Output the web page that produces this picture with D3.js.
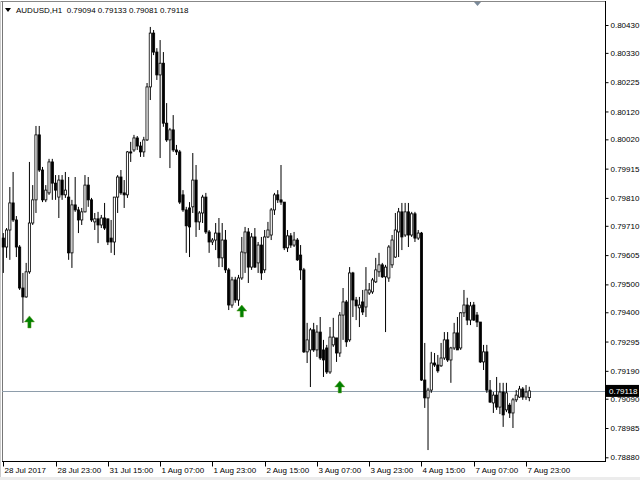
<!DOCTYPE html>
<html><head><meta charset="utf-8">
<script src="https://cdn.jsdelivr.net/npm/d3@7"></script>
<style>html,body{margin:0;padding:0;background:#fff;}svg{display:block;}</style>
</head><body>
<svg id="c" width="640" height="480"></svg>
<script>
const open = [0.79666,0.79634,0.79695,0.79792,0.79731,0.79634,0.79487,0.79455,0.79545,0.79720,
0.79803,0.80036,0.79910,0.79803,0.79828,0.79939,0.79863,0.79813,0.79874,0.79821,
0.79813,0.79613,0.79785,0.79767,0.79731,0.79760,0.79856,0.79803,0.79724,0.79735,
0.79713,0.79738,0.79735,0.79666,0.79652,0.79813,0.79885,0.79828,0.79821,0.79975,
0.79982,0.80025,0.79996,0.79975,0.80018,0.80208,0.80401,0.80333,0.80251,0.80293,
0.80078,0.80018,0.80054,0.79982,0.79975,0.79821,0.79767,0.79774,0.79778,0.79874,
0.79724,0.79756,0.79813,0.79688,0.79652,0.79659,0.79684,0.79595,0.79659,0.79552,
0.79426,0.79516,0.79444,0.79523,0.79613,0.79688,0.79562,0.79670,0.79577,0.79641,
0.79552,0.79670,0.79677,0.79767,0.79821,0.79803,0.79795,0.79631,0.79674,0.79641,
0.79659,0.79605,0.79552,0.79258,0.79265,0.79337,0.79265,0.79329,0.79265,0.79272,
0.79186,0.79283,0.79308,0.79254,0.79390,0.79437,0.79301,0.79541,0.79444,0.79416,
0.79437,0.79419,0.79469,0.79473,0.79509,0.79545,0.79570,0.79527,0.79523,0.79570,
0.79598,0.79688,0.79760,0.79677,0.79760,0.79677,0.79753,0.79666,0.79684,0.79157,
0.79093,0.79121,0.79218,0.79211,0.79208,0.79236,0.79301,0.79229,0.79272,0.79326,
0.79272,0.79398,0.79426,0.79372,0.79426,0.79390,0.79365,0.79222,0.79258,0.79121,
0.79075,0.79103,0.79060,0.79114,0.79050,0.79067,0.79039,0.79086,0.79096,0.79125,
0.79096,0.79094];
const high = [0.79684,0.79702,0.79849,0.79903,0.79745,0.79641,0.79541,0.79577,0.79939,0.79856,
0.80068,0.80068,0.79921,0.79856,0.79950,0.79950,0.79892,0.79892,0.79892,0.79903,
0.79885,0.79803,0.79885,0.79778,0.79774,0.79892,0.79885,0.79810,0.79756,0.79760,
0.79749,0.79792,0.79735,0.79731,0.79813,0.79892,0.79910,0.79874,0.79978,0.80011,
0.80036,0.80032,0.80011,0.80029,0.80222,0.80423,0.80412,0.80347,0.80376,0.80333,
0.80150,0.80061,0.80107,0.80000,0.79982,0.79838,0.79778,0.79795,0.79971,0.79928,
0.79763,0.79821,0.79828,0.79695,0.79666,0.79720,0.79738,0.79720,0.79695,0.79559,
0.79527,0.79527,0.79534,0.79670,0.79706,0.79702,0.79684,0.79702,0.79652,0.79670,
0.79695,0.79724,0.79774,0.79828,0.79838,0.79928,0.79795,0.79695,0.79684,0.79688,
0.79666,0.79641,0.79559,0.79362,0.79344,0.79362,0.79354,0.79383,0.79301,0.79283,
0.79347,0.79380,0.79308,0.79401,0.79487,0.79444,0.79562,0.79545,0.79455,0.79455,
0.79480,0.79562,0.79505,0.79523,0.79595,0.79613,0.79577,0.79570,0.79641,0.79677,
0.79756,0.79774,0.79792,0.79792,0.79792,0.79760,0.79760,0.79695,0.79688,0.79290,
0.79129,0.79258,0.79254,0.79247,0.79290,0.79329,0.79329,0.79276,0.79362,0.79383,
0.79401,0.79480,0.79452,0.79437,0.79437,0.79401,0.79365,0.79283,0.79283,0.79157,
0.79114,0.79168,0.79147,0.79147,0.79147,0.79075,0.79093,0.79121,0.79136,0.79132,
0.79139,0.79133];
const low = [0.79541,0.79595,0.79588,0.79724,0.79598,0.79480,0.79362,0.79452,0.79538,0.79713,
0.79756,0.79903,0.79795,0.79795,0.79821,0.79803,0.79803,0.79738,0.79803,0.79810,
0.79588,0.79559,0.79760,0.79684,0.79713,0.79758,0.79778,0.79724,0.79695,0.79648,
0.79702,0.79695,0.79641,0.79613,0.79605,0.79756,0.79821,0.79774,0.79810,0.79939,
0.79975,0.79982,0.79957,0.79957,0.80014,0.80161,0.80322,0.80233,0.79953,0.80065,
0.80011,0.79917,0.79975,0.79964,0.79788,0.79760,0.79613,0.79598,0.79756,0.79670,
0.79695,0.79720,0.79681,0.79613,0.79641,0.79623,0.79562,0.79562,0.79541,0.79408,
0.79416,0.79434,0.79423,0.79516,0.79541,0.79505,0.79552,0.79559,0.79541,0.79516,
0.79541,0.79666,0.79659,0.79749,0.79792,0.79785,0.79623,0.79616,0.79631,0.79634,
0.79584,0.79516,0.79254,0.79218,0.79132,0.79258,0.79240,0.79229,0.79168,0.79179,
0.79179,0.79276,0.79222,0.79240,0.79301,0.79276,0.79294,0.79383,0.79372,0.79347,
0.79390,0.79383,0.79462,0.79466,0.79505,0.79527,0.79523,0.79329,0.79509,0.79559,
0.79595,0.79598,0.79623,0.79670,0.79634,0.79670,0.79652,0.79659,0.79154,0.79057,
0.78906,0.79111,0.79204,0.79183,0.79204,0.79229,0.79222,0.79147,0.79265,0.79265,
0.79265,0.79383,0.79354,0.79354,0.79369,0.79347,0.79218,0.79193,0.79111,0.79075,
0.79039,0.79050,0.79035,0.78989,0.79042,0.79021,0.78985,0.79078,0.79093,0.79086,
0.79086,0.79081];
const close = [0.79634,0.79695,0.79792,0.79731,0.79634,0.79487,0.79455,0.79545,0.79720,0.79803,
0.80036,0.79910,0.79803,0.79838,0.79939,0.79863,0.79838,0.79874,0.79821,0.79838,
0.79613,0.79785,0.79767,0.79731,0.79760,0.79856,0.79803,0.79731,0.79735,0.79713,
0.79738,0.79702,0.79652,0.79652,0.79813,0.79885,0.79828,0.79821,0.79975,0.79971,
0.80025,0.79996,0.79975,0.80018,0.80208,0.80401,0.80333,0.80251,0.80293,0.80078,
0.80018,0.80054,0.79982,0.79975,0.79795,0.79767,0.79710,0.79706,0.79874,0.79724,
0.79756,0.79813,0.79688,0.79652,0.79659,0.79684,0.79595,0.79659,0.79552,0.79426,
0.79516,0.79444,0.79523,0.79616,0.79688,0.79562,0.79670,0.79562,0.79641,0.79541,
0.79670,0.79695,0.79767,0.79821,0.79803,0.79795,0.79631,0.79674,0.79641,0.79659,
0.79588,0.79552,0.79258,0.79301,0.79337,0.79265,0.79329,0.79236,0.79229,0.79186,
0.79311,0.79311,0.79254,0.79390,0.79437,0.79294,0.79541,0.79444,0.79423,0.79426,
0.79401,0.79480,0.79480,0.79516,0.79552,0.79570,0.79527,0.79562,0.79634,0.79659,
0.79695,0.79760,0.79670,0.79760,0.79677,0.79753,0.79666,0.79684,0.79157,0.79093,
0.79121,0.79218,0.79211,0.79190,0.79236,0.79301,0.79229,0.79272,0.79326,0.79265,
0.79398,0.79426,0.79372,0.79423,0.79372,0.79365,0.79222,0.79258,0.79121,0.79078,
0.79103,0.79060,0.79114,0.79032,0.79111,0.79039,0.79086,0.79103,0.79125,0.79096,
0.79114,0.79118];

const xTickIndex = [0,16,32,48,64,80,96,112,128,144,160];
const xTickLabels = ["28 Jul 2017","28 Jul 23:00","31 Jul 15:00","1 Aug 07:00","1 Aug 23:00","2 Aug 15:00","3 Aug 07:00","3 Aug 23:00","4 Aug 15:00","7 Aug 07:00","7 Aug 23:00"];
const yTicks = [0.80430,0.80330,0.80225,0.80120,0.80020,0.79915,0.79810,0.79710,0.79605,0.79500,0.79400,0.79295,0.79190,0.79090,0.78985,0.78880];
const arrowIndex = [8,73,103];
const arrowPrice = [0.79387,0.79426,0.79154];
const title = "AUDUSD,H1  0.79094 0.79133 0.79081 0.79118";
const lastPrice = 0.79118;

const svg = d3.select("#c");
const font = "'Liberation Sans', Arial, sans-serif";
const x = d3.scaleLinear().domain([0,161]).range([3.3,529.3]);
const y = d3.scaleLinear().domain([0.78880,0.80430]).range([457.3,25]);
const plotL = 2, plotR = 605, plotT = 1, plotB = 461;

// bottom window strip
svg.append("rect").attr("x",0).attr("y",477).attr("width",640).attr("height",3).attr("fill","#ececec");

// frame
svg.append("line").attr("x1",0).attr("x2",plotR).attr("y1",1.5).attr("y2",1.5).attr("stroke","#888").attr("stroke-width",1);
svg.append("line").attr("x1",2.5).attr("x2",2.5).attr("y1",1).attr("y2",plotB).attr("stroke","#777").attr("stroke-width",1);
svg.append("line").attr("x1",0.5).attr("x2",0.5).attr("y1",1).attr("y2",477).attr("stroke","#ccc").attr("stroke-width",1);

// current price line
svg.append("line").attr("x1",plotL).attr("x2",plotR).attr("y1",Math.round(y(lastPrice))+0.5).attr("y2",Math.round(y(lastPrice))+0.5)
  .attr("stroke","#8e9dab").attr("stroke-width",1);

// candles
const data = d3.range(open.length).map(i=>({i,o:open[i],h:high[i],l:low[i],c:close[i]}));
const g = svg.append("g");
g.selectAll("line.wick").data(data).join("line").attr("class","wick")
  .attr("x1",d=>x(d.i)).attr("x2",d=>x(d.i)).attr("y1",d=>y(d.h)).attr("y2",d=>y(d.l))
  .attr("stroke","#000").attr("stroke-width",1);
g.selectAll("rect.body").data(data).join("rect").attr("class","body")
  .attr("x",d=>x(d.i)-1.1).attr("width",2.2)
  .attr("y",d=>y(Math.max(d.o,d.c)))
  .attr("height",d=>Math.max(0.8,Math.abs(y(d.o)-y(d.c))))
  .attr("fill",d=>d.c>=d.o?"#fff":"#000")
  .attr("stroke","#000").attr("stroke-width",0.8);

// arrows
const arrowPath = "M0,0 L5,6 L1.6,6 L1.6,12 L-1.6,12 L-1.6,6 L-5,6 Z";
svg.selectAll("path.arrow").data(arrowIndex.map((d,k)=>({i:d,p:arrowPrice[k]}))).join("path")
  .attr("class","arrow").attr("d",arrowPath)
  .attr("transform",d=>`translate(${x(d.i)},${y(d.p)})`)
  .attr("fill","#008000").attr("stroke","#5a9a20").attr("stroke-width",0.5);

// right and bottom axis lines
svg.append("line").attr("x1",plotR+0.5).attr("x2",plotR+0.5).attr("y1",1).attr("y2",plotB+1).attr("stroke","#000");
svg.append("line").attr("x1",plotL).attr("x2",plotR+1).attr("y1",plotB+0.5).attr("y2",plotB+0.5).attr("stroke","#000");

// y axis
const yAxis = d3.axisRight(y).tickValues(yTicks).tickSize(3).tickPadding(2).tickFormat(d3.format(".5f"));
const ya = svg.append("g").attr("transform",`translate(${plotR+0.5},0)`).call(yAxis);
ya.select(".domain").remove();
ya.selectAll("text").attr("font-family",font).attr("font-size",8).attr("fill","#000");
ya.selectAll("line").attr("stroke","#000");

// x axis
const xa = svg.append("g").attr("transform",`translate(0,${plotB+0.5})`);
xa.selectAll("line").data(xTickIndex).join("line")
  .attr("x1",d=>Math.round(x(d))+0.5).attr("x2",d=>Math.round(x(d))+0.5).attr("y1",0).attr("y2",5).attr("stroke","#000");
xa.selectAll("text").data(xTickIndex).join("text")
  .attr("x",d=>Math.round(x(d))+1.5).attr("y",11)
  .attr("font-family",font).attr("font-size",8).attr("fill","#000")
  .text((d,k)=>xTickLabels[k]);

// price label box
const py = y(lastPrice);
svg.append("rect").attr("x",606).attr("y",py-6).attr("width",33).attr("height",12).attr("fill","#000");
svg.append("text").attr("x",609).attr("y",py+3).attr("font-family",font).attr("font-size",8).attr("fill","#fff").text(d3.format(".5f")(lastPrice));

// title
svg.append("path").attr("d","M5,8 L11,8 L8,12 Z").attr("fill","#000");
svg.append("text").attr("x",16).attr("y",13).attr("font-family",font).attr("font-size",8).attr("fill","#000")
  .attr("xml:space","preserve").style("white-space","pre").text(title);

// chart shift marker
svg.append("path").attr("d","M474,2 L481,2 L477.5,6 Z").attr("fill","#7a8a9a");
</script>
</body></html>
